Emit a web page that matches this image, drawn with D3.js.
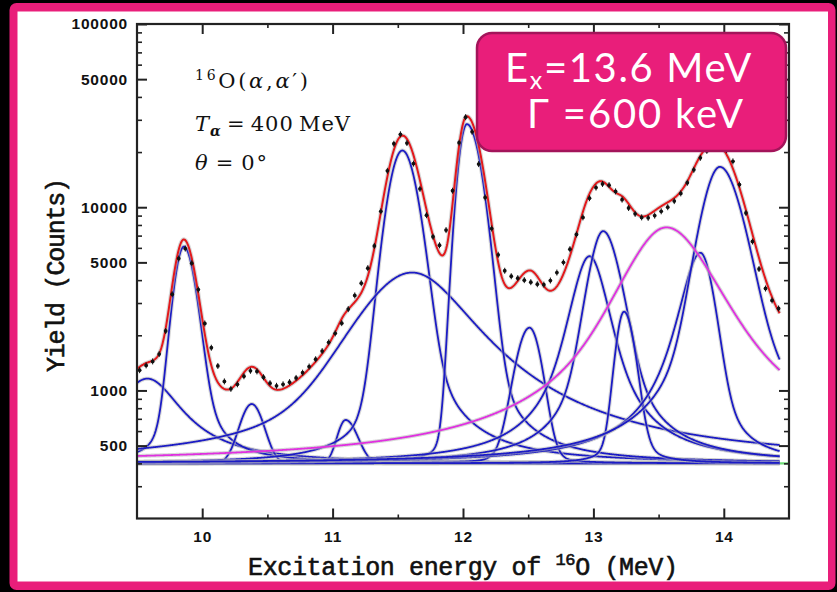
<!DOCTYPE html>
<html><head><meta charset="utf-8">
<script src="https://cdn.jsdelivr.net/npm/d3@7/dist/d3.min.js"></script>
<style>html,body{margin:0;padding:0;background:#000;overflow:hidden}svg{display:block}</style>
</head><body>
<svg id="chart" width="837" height="592"></svg>
<script>
// ---------------- data ----------------
const xTicks = [10, 11, 12, 13, 14];
const xMinorTicks = [10.5, 11.5, 12.5, 13.5];
const yTickLabels = [500, 1000, 5000, 10000, 50000, 100000];
const background = 400;

const energies = [
  9.52,9.57,9.62,9.67,9.72,9.77,9.82,9.87,9.92,9.97,
  10.02,10.07,10.12,10.17,10.22,10.27,10.32,10.37,10.42,10.47,
  10.52,10.57,10.62,10.67,10.72,10.77,10.82,10.87,10.92,10.97,
  11.02,11.07,11.12,11.17,11.22,11.27,11.32,11.37,11.42,11.47,
  11.52,11.57,11.62,11.67,11.72,11.77,11.82,11.87,11.92,11.97,
  12.02,12.07,12.12,12.17,12.22,12.27,12.32,12.37,12.42,12.47,
  12.52,12.57,12.62,12.67,12.72,12.77,12.82,12.87,12.92,12.97,
  13.02,13.07,13.12,13.17,13.22,13.27,13.32,13.37,13.42,13.47,
  13.52,13.57,13.62,13.67,13.72,13.77,13.82,13.87,13.92,13.97,
  14.02,14.07,14.12,14.17,14.22,14.27,14.32,14.37,14.42];
const counts = [
  1290,1370,1440,1580,2110,3350,5250,5950,4950,3550,
  2320,1710,1360,1120,1020,1080,1195,1280,1270,1180,
  1095,1060,1080,1110,1170,1250,1350,1480,1640,1830,
  2050,2330,2780,3300,3850,4650,6150,9500,15800,22200,
  25000,22400,17300,12600,9050,6900,6200,7500,12300,22500,
  31000,25800,17200,11300,7650,5500,4500,4200,4100,4000,
  3900,3800,3780,3980,4400,5000,5900,7100,8800,11200,
  12800,13400,13200,12200,11000,9900,9200,8800,8750,9000,
  9500,10000,10800,11900,13600,16000,18600,20300,21200,21300,
  20500,17800,13300,9300,6500,4600,3600,3100,2800];

// fitted peak components (blue)
const peakCenters = [9.58, 9.86, 10.38, 11.10, 11.535, 11.61, 12.03, 12.51, 12.97, 13.075, 13.235, 13.82, 13.97];
const peakAmps    = [760, 5700, 443, 290, 20000, 4000, 28000, 1800, 5000, 7000, 2290, 5240, 16200];
const peakWidthL  = [0.27, 0.085, 0.10, 0.07, 0.12, 0.43, 0.075, 0.115, 0.14, 0.12, 0.07, 0.145, 0.15];
const peakWidthR  = [0.27, 0.10, 0.10, 0.10, 0.128, 0.46, 0.12, 0.10, 0.14, 0.14, 0.09, 0.11, 0.18];
const peakLorL    = [1, 0.2, 0, 0, 0.12, 0.5, 0.03, 0.1, 0.8, 0.5, 0.2, 0.9, 0.4];
const peakLorR    = [1, 0.35, 0, 0, 0.25, 1, 0.15, 0.1, 0.8, 0.5, 0.2, 0.4, 0.45];
// broad 13.6 MeV state (magenta)
const broadCenter = 13.56, broadAmp = 7360, broadWidthL = 0.33, broadWidthR = 0.36, broadLor = 0.8;

// ---------------- drawing ----------------
const svg = d3.select('#chart');
svg.append('rect').attr('width', 837).attr('height', 592).attr('fill', '#000');
svg.append('rect').attr('x', 9.5).attr('y', 3).attr('width', 826).attr('height', 587)
  .attr('rx', 7).attr('fill', '#E91E7A');
svg.append('rect').attr('x', 17.5).attr('y', 11.5).attr('width', 810.5).attr('height', 570).attr('fill', '#fff');

const x = d3.scaleLinear().domain([9.5, 14.5]).range([137, 789]);
const y = d3.scaleLog().domain([200, 100000]).range([518.5, 24]);

svg.append('clipPath').attr('id', 'pc').append('rect')
  .attr('x', 137).attr('y', 24).attr('width', 652).attr('height', 494.5);
const g = svg.append('g').attr('clip-path', 'url(#pc)');

function shape(E, c, a, wl, wr, el, er) {
  const d = E - c;
  const w = d < 0 ? wl : wr, eta = d < 0 ? el : er;
  const u = (d / w) * (d / w);
  return a * ((1 - eta) * Math.exp(-Math.LN2 * u) + eta / (1 + u));
}
const comp = (E, i) => shape(E, peakCenters[i], peakAmps[i], peakWidthL[i], peakWidthR[i], peakLorL[i], peakLorR[i]);
const broad = E => shape(E, broadCenter, broadAmp, broadWidthL, broadWidthR, broadLor, broadLor);

const grid = d3.range(9.5, 14.4301, 0.004);
const line = d3.line().x(d => x(d[0])).y(d => y(d[1]));

function drawCurve(pts, color, w) {
  g.append('path').attr('d', line(pts)).attr('fill', 'none')
    .attr('stroke', '#b8b8b8').attr('stroke-opacity', 0.55).attr('stroke-width', w + 2.2);
  g.append('path').attr('d', line(pts)).attr('fill', 'none')
    .attr('stroke', color).attr('stroke-width', w);
}

// green background line
g.append('line').attr('x1', x(9.5)).attr('x2', x(14.5)).attr('y1', y(background)).attr('y2', y(background))
  .attr('stroke', '#6fdc78').attr('stroke-width', 2.4);

peakCenters.forEach((c, i) => {
  drawCurve(grid.map(E => [E, background + comp(E, i)]), '#1c1cc4', 1.8);
});
drawCurve(grid.map(E => [E, background + broad(E)]), '#e030e0', 1.8);

const total = grid.map(E => [E, background + broad(E) + d3.sum(peakCenters, (c, i) => comp(E, i))]);
drawCurve(total, '#e3191c', 2.0);

// data points
const dots = g.append('g');
energies.forEach((E, i) => {
  const cx = x(E), cy = y(counts[i]);
  dots.append('line').attr('x1', cx).attr('x2', cx).attr('y1', cy - 3).attr('y2', cy + 3)
    .attr('stroke', '#111').attr('stroke-width', 1);
  dots.append('circle').attr('cx', cx).attr('cy', cy).attr('r', 1.9).attr('fill', '#111');
});

// axes
const tickFont = g2 => g2.selectAll('text').attr('font-family', 'Liberation Sans, Arial, sans-serif')
  .attr('font-weight', 'bold').attr('font-size', 15.5).attr('letter-spacing', 0.8).attr('fill', '#111');
const styleAxis = (sel, w) => { sel.select('.domain').remove(); sel.selectAll('line').attr('stroke', '#222').attr('stroke-width', w); };

const yMinor = y.ticks().filter(v => !yTickLabels.includes(v) && v > 200 && v < 100000);

let a;
a = svg.append('g').attr('transform', 'translate(137,0)')
  .call(d3.axisLeft(y).tickValues(yTickLabels).tickFormat(d3.format('d')).tickSize(-10).tickPadding(9));
styleAxis(a, 2); tickFont(a);
a = svg.append('g').attr('transform', 'translate(137,0)')
  .call(d3.axisLeft(y).tickValues(yMinor).tickFormat('').tickSize(-5));
styleAxis(a, 1.6);
a = svg.append('g').attr('transform', 'translate(789,0)')
  .call(d3.axisRight(y).tickValues(yTickLabels).tickFormat('').tickSize(-10));
styleAxis(a, 2);
a = svg.append('g').attr('transform', 'translate(789,0)')
  .call(d3.axisRight(y).tickValues(yMinor).tickFormat('').tickSize(-5));
styleAxis(a, 1.6);

a = svg.append('g').attr('transform', 'translate(0,518.5)')
  .call(d3.axisBottom(x).tickValues(xTicks).tickFormat(d3.format('d')).tickSize(-10).tickPadding(12));
styleAxis(a, 2); tickFont(a);
a = svg.append('g').attr('transform', 'translate(0,518.5)')
  .call(d3.axisBottom(x).tickValues(xMinorTicks).tickFormat('').tickSize(-4));
styleAxis(a, 1.6);
a = svg.append('g').attr('transform', 'translate(0,24)')
  .call(d3.axisTop(x).tickValues(xTicks).tickFormat('').tickSize(-10));
styleAxis(a, 2);
a = svg.append('g').attr('transform', 'translate(0,24)')
  .call(d3.axisTop(x).tickValues(xMinorTicks).tickFormat('').tickSize(-4));
styleAxis(a, 1.6);

// frame
svg.append('rect').attr('x', 137).attr('y', 24).attr('width', 652).attr('height', 494.5)
  .attr('fill', 'none').attr('stroke', '#222').attr('stroke-width', 2.2);

// axis titles
const mono = 'Liberation Mono, Courier New, monospace';
const xt = svg.append('text').attr('x', 248).attr('y', 575).attr('font-family', mono).attr('font-size', 25)
  .attr('fill', '#111').attr('stroke', '#111').attr('stroke-width', 0.6)
  .attr('textLength', 430).attr('lengthAdjust', 'spacing');
xt.append('tspan').text('Excitation energy of ');
xt.append('tspan').attr('font-size', 17).attr('dy', -10).text('16');
xt.append('tspan').attr('dy', 10).text('O (MeV)');

svg.append('text').attr('transform', 'translate(64,275) rotate(-90)').attr('text-anchor', 'middle')
  .attr('font-family', mono).attr('font-size', 25).attr('fill', '#111').attr('stroke', '#111').attr('stroke-width', 0.6)
  .attr('textLength', 194).attr('lengthAdjust', 'spacing').text('Yield (Counts)');

// reaction annotation
const ann = svg.append('g').attr('font-family', 'DejaVu Serif, serif').attr('font-size', 21).attr('fill', '#111');
const t1 = ann.append('text').attr('x', 195).attr('y', 87.5).attr('textLength', 113).attr('lengthAdjust', 'spacing');
t1.append('tspan').attr('font-size', 14).attr('dy', -8).text('16');
t1.append('tspan').attr('dy', 8).text('O(');
t1.append('tspan').attr('font-style', 'italic').text('α');
t1.append('tspan').text(',');
t1.append('tspan').attr('font-style', 'italic').text('α');
t1.append('tspan').text('′)');
const t2 = ann.append('text').attr('x', 195).attr('y', 131).attr('textLength', 155).attr('lengthAdjust', 'spacing');
t2.append('tspan').attr('font-style', 'italic').text('T');
t2.append('tspan').attr('font-style', 'italic').attr('font-weight', 'bold').attr('font-size', 14).attr('dy', 5).text('α');
t2.append('tspan').attr('dy', -5).text('\u2009=\u2009400\u2009MeV');
const t3 = ann.append('text').attr('x', 195).attr('y', 170).attr('textLength', 72).attr('lengthAdjust', 'spacing');
t3.append('tspan').attr('font-style', 'italic').text('θ');
t3.append('tspan').text('\u2009=\u20090°');

// highlighted box (two lines in one text element)
svg.append('rect').attr('x', 477).attr('y', 33).attr('width', 309).attr('height', 118).attr('rx', 15)
  .attr('fill', '#E91E7A').attr('stroke', '#A3145A').attr('stroke-width', 2.5);
const boxFont = 'Lato, sans-serif';
function measure(parts) {
  const t = svg.append('text').attr('font-family', boxFont).attr('font-size', 40);
  parts.forEach(p => t.append('tspan').attr('font-size', p[1]).text(p[0]));
  const w = t.node().getComputedTextLength();
  t.remove();
  return w;
}
const line1Parts = [['E', 40], ['x', 25], ['=13.6 MeV', 40]];
const line2Parts = [['Γ =600 keV', 40]];
const n1 = line1Parts.reduce((s, p) => s + p[0].length, 0);
const n2 = line2Parts[0][0].length;
const ls1 = (248 - measure(line1Parts)) / n1;
const ls2 = (218 - measure(line2Parts)) / n2;
const bt = svg.append('text').attr('font-family', boxFont).attr('font-size', 40).attr('fill', '#fff');
bt.append('tspan').attr('x', 505).attr('y', 82).attr('letter-spacing', ls1).text('E');
bt.append('tspan').attr('font-size', 25).attr('dy', 7).attr('letter-spacing', ls1).text('x');
bt.append('tspan').attr('dy', -7).attr('letter-spacing', ls1).text('=13.6 MeV');
bt.append('tspan').attr('x', 527).attr('y', 128).attr('letter-spacing', ls2).text('Γ =600 keV');
</script>
</body></html>
